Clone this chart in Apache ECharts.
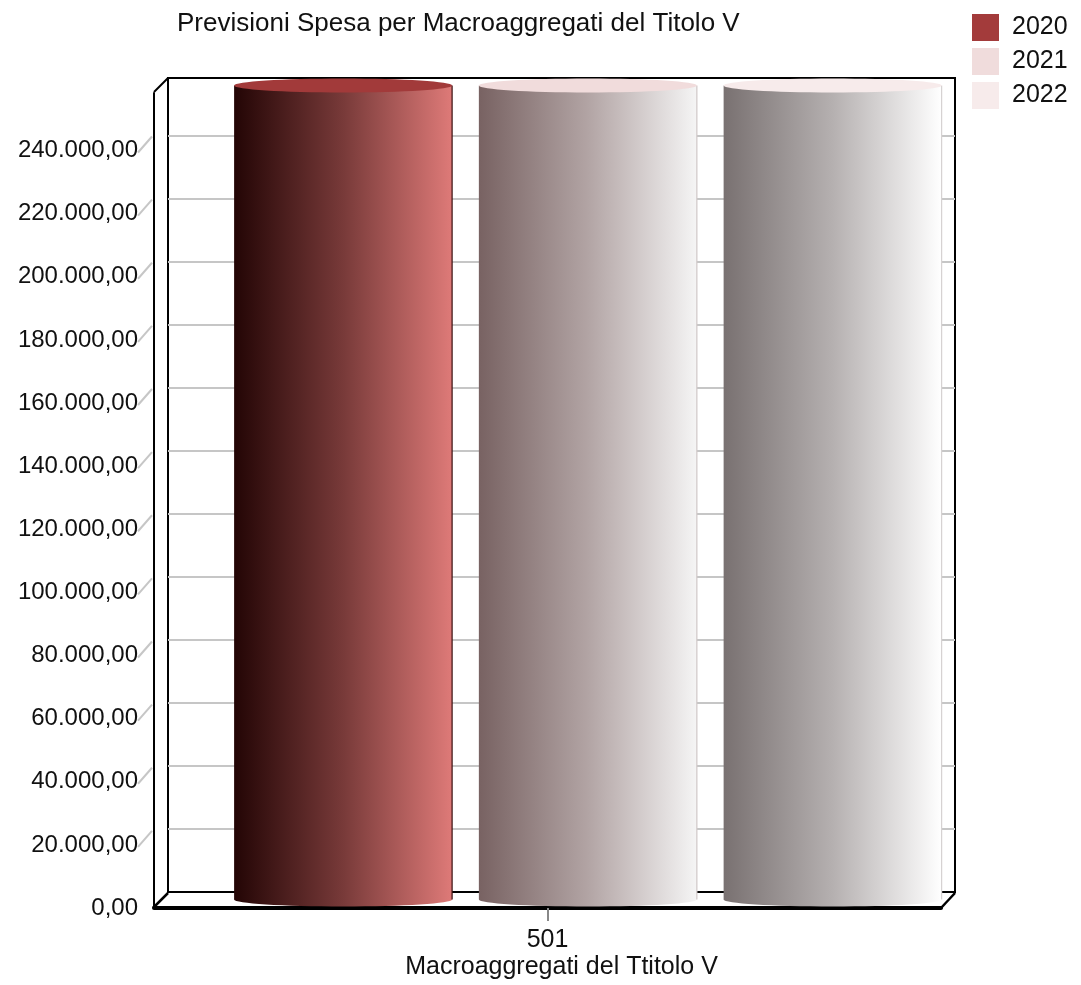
<!DOCTYPE html>
<html>
<head>
<meta charset="utf-8">
<title>Previsioni Spesa per Macroaggregati del Titolo V</title>
<script src="https://cdn.jsdelivr.net/npm/echarts@6/dist/echarts.min.js"></script>
<style>
  html, body { margin: 0; padding: 0; background: #ffffff; }
  #chart { width: 1081px; height: 985px; }
</style>
</head>
<body>
<div id="chart"></div>
<script>
// ---- data ----
const categories = ['501'];
const years = ['2020', '2021', '2022'];
const spesa2020 = [258228.45];
const spesa2021 = [258228.45];
const spesa2022 = [258228.45];
const tickValues = [0, 20000, 40000, 60000, 80000, 100000, 120000, 140000, 160000, 180000, 200000, 220000, 240000];

// ---- layout / style ----
const FONT = "'Liberation Sans', Arial, Helvetica, sans-serif";
const FRONT = { left: 154, top: 93, right: 941, bottom: 908 };   // front plane of the box
const DEPTH = { dx: 14, dy: 15 };                                 // box depth offset
const BACK = {
  left: FRONT.left + DEPTH.dx, top: FRONT.top - DEPTH.dy,
  right: FRONT.right + DEPTH.dx, bottom: FRONT.bottom - DEPTH.dy
};
const ELLIPSE_RY = 7;
const BAR_START = -0.416, BAR_W = 0.277, BAR_STEP = 0.311;    // fractions of category band

const legendColors = ['#a33b3b', '#f0dcdc', '#f7ebeb'];
const bodyStops = [
  [{ offset: 0, color: '#230505' }, { offset: 0.5, color: '#783a39' }, { offset: 1, color: '#de7a78' }],
  [{ offset: 0, color: '#786262' }, { offset: 0.5, color: '#b2a4a4' }, { offset: 1, color: '#f5f5f5' }],
  [{ offset: 0, color: '#797171' }, { offset: 0.5, color: '#b5b0b0' }, { offset: 1, color: '#ffffff' }]
];
const edgeColors = ['#3a0f0f', '#cfc6c6', '#d6d2d2'];
const topColors = ['#a23a3a', '#f1dcdc', '#f7ebeb'];

const seriesData = [spesa2020, spesa2021, spesa2022];
const yMax = Math.max(...spesa2020, ...spesa2021, ...spesa2022);

function fmtIt(v) {
  const parts = Number(v).toFixed(2).split('.');
  return parts[0].replace(/\B(?=(\d{3})+(?!\d))/g, '.') + ',' + parts[1];
}

function cylinder(idx) {
  return function (params, api) {
    const cat = api.value(0);
    const base = api.coord([cat, 0]);
    const top = api.coord([cat, api.value(1)]);
    const band = api.size([1, 0])[0];
    const x0 = base[0] + band * (BAR_START + idx * BAR_STEP);
    const w = band * BAR_W;
    const yTop = top[1] + DEPTH.dy / 2;
    const yBot = base[1] + DEPTH.dy / 2;
    const grad = () => new echarts.graphic.LinearGradient(0, 0, 1, 0, bodyStops[idx]);
    return {
      type: 'group',
      children: [
        { type: 'ellipse', shape: { cx: x0 + w / 2, cy: yBot, rx: w / 2, ry: ELLIPSE_RY }, style: { fill: grad() } },
        { type: 'rect', shape: { x: x0, y: yTop, width: w, height: yBot - yTop }, style: { fill: grad() } },
        { type: 'line', shape: { x1: x0 + w, y1: yTop, x2: x0 + w, y2: yBot }, style: { stroke: edgeColors[idx], lineWidth: 1.2 } },
        { type: 'ellipse', shape: { cx: x0 + w / 2, cy: yTop, rx: w / 2, ry: ELLIPSE_RY }, style: { fill: topColors[idx] } }
      ]
    };
  };
}

// short diagonal ticks beside the value labels
function sideTick(params, api) {
  const p = api.coord([0, api.value(1)]);
  const x = params.coordSys.x;
  return {
    type: 'line',
    shape: { x1: x - 16, y1: p[1] + 2, x2: x - 2, y2: p[1] - 14 },
    style: { stroke: '#c6c6c6', lineWidth: 2 }
  };
}

const chart = echarts.init(document.getElementById('chart'), null, { renderer: 'canvas' });

const option = {
  backgroundColor: '#ffffff',
  animation: false,
  textStyle: { fontFamily: FONT },
  title: {
    text: 'Previsioni Spesa per Macroaggregati del Titolo V',
    left: 172, top: 6,
    textStyle: { fontFamily: FONT, fontSize: 26, fontWeight: 'normal', color: '#111' }
  },
  legend: {
    orient: 'vertical',
    left: 972, top: 14,
    padding: 0,
    itemWidth: 27, itemHeight: 27, itemGap: 7,
    icon: 'rect',
    data: years,
    textStyle: { fontFamily: FONT, fontSize: 25, color: '#111', padding: [0, 0, 0, 8] },
    selectedMode: false
  },
  grid: [
    // front plane: value labels, category label, floor edge
    { left: FRONT.left, top: FRONT.top, width: FRONT.right - FRONT.left, height: FRONT.bottom - FRONT.top, containLabel: false },
    // back wall: grid lines and bars
    {
      left: BACK.left, top: BACK.top, width: BACK.right - BACK.left, height: BACK.bottom - BACK.top,
      show: true, borderColor: '#000', borderWidth: 2, backgroundColor: 'transparent'
    }
  ],
  xAxis: [
    {
      gridIndex: 0, type: 'category', data: categories,
      axisLine: { lineStyle: { color: '#000', width: 4 } },
      axisTick: { show: true, alignWithLabel: true, length: 13, lineStyle: { color: '#888', width: 2 } },
      axisLabel: { fontFamily: FONT, fontSize: 25, color: '#111', margin: 20 },
      z: 1
    },
    {
      gridIndex: 1, type: 'category', data: categories,
      axisLine: { show: false }, axisTick: { show: false }, axisLabel: { show: false },
      name: 'Macroaggregati del Ttitolo V',
      nameLocation: 'middle', nameGap: 63,
      nameTextStyle: { fontFamily: FONT, fontSize: 25, color: '#111' }
    }
  ],
  yAxis: [
    {
      gridIndex: 0, type: 'value', min: 0, max: yMax, interval: 20000,
      axisLine: { show: true, lineStyle: { color: '#000', width: 2 } },
      axisTick: { show: false },
      splitLine: { show: false },
      axisLabel: {
        fontFamily: FONT, fontSize: 24, color: '#111', margin: 16,
        padding: [4, 0, 0, 0],
        showMaxLabel: false,
        formatter: fmtIt
      }
    },
    {
      gridIndex: 1, type: 'value', min: 0, max: yMax, interval: 20000,
      axisLine: { show: false }, axisTick: { show: false }, axisLabel: { show: false },
      splitLine: { show: true, showMinLine: false, showMaxLine: false, lineStyle: { color: '#c6c6c6', width: 2 } }
    }
  ],
  graphic: [
    // side-wall and floor edges joining front and back planes
    { type: 'line', shape: { x1: FRONT.left, y1: FRONT.top - 1, x2: BACK.left, y2: BACK.top }, style: { stroke: '#000', lineWidth: 2 }, z: 10 },
    { type: 'line', shape: { x1: FRONT.left - 1, y1: FRONT.bottom, x2: BACK.left, y2: BACK.bottom }, style: { stroke: '#000', lineWidth: 2.5 }, z: 10 },
    { type: 'line', shape: { x1: FRONT.right, y1: FRONT.bottom, x2: BACK.right, y2: BACK.bottom }, style: { stroke: '#000', lineWidth: 2.5 }, z: 10 }
  ],
  series: [
    {
      name: 'ticks', type: 'custom', xAxisIndex: 0, yAxisIndex: 0, silent: true,
      renderItem: sideTick,
      data: tickValues.slice(1).map(v => [0, v]),
      z: 1
    },
    ...years.map((y, i) => ({
      name: y, type: 'custom', xAxisIndex: 1, yAxisIndex: 1, silent: true,
      itemStyle: { color: legendColors[i] },
      renderItem: cylinder(i),
      data: seriesData[i].map((v, k) => [k, v]),
      z: 3
    }))
  ]
};

chart.setOption(option);
</script>
</body>
</html>
